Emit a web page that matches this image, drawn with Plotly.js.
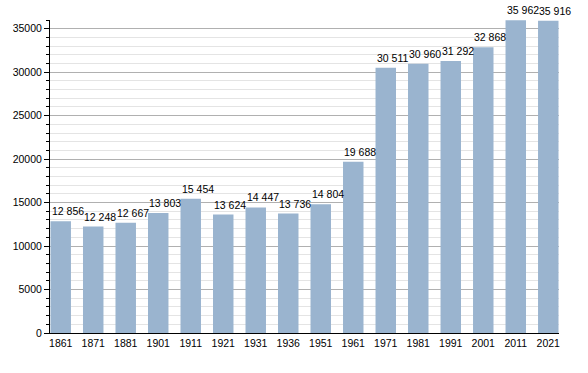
<!DOCTYPE html>
<html>
<head>
<meta charset="utf-8">
<script src="https://cdn.plot.ly/plotly-3.0.1.min.js"></script>
<style>html,body{margin:0;padding:0;background:#fff;}#chart{width:588px;height:373px;}</style>
</head>
<body>
<div id="chart"></div>
<script>
const years = ["1861","1871","1881","1901","1911","1921","1931","1936","1951","1961","1971","1981","1991","2001","2011","2021"];
const population = [12856,12248,12667,13803,15454,13624,14447,13736,14804,19688,30511,30960,31292,32868,35962,35916];

function fmt(v){ return String(v).replace(/\B(?=(\d{3})+(?!\d))/g, " "); }

const trace = {
  type: 'bar',
  x: years,
  y: population,
  marker: {color: '#9ab4cf', line: {width: 0}},
  hoverinfo: 'x+y'
};

// category axis: annotation x given as category index of each year
const labels = years.map((yr, i) => ({
  x: i, y: population[i],
  xref: 'x', yref: 'y',
  text: fmt(population[i]),
  showarrow: false,
  xanchor: 'left', yanchor: 'bottom',
  xshift: -11, yshift: 2,
  font: {family: 'Liberation Sans, Arial, sans-serif', size: 10.5, color: '#000'}
}));

const layout = {
  width: 588, height: 373,
  margin: {l: 50, r: 29, t: 20, b: 40, pad: 0},
  paper_bgcolor: '#fff', plot_bgcolor: '#fff',
  bargap: 0.37,
  showlegend: false,
  annotations: labels,
  font: {family: 'Liberation Sans, Arial, sans-serif', size: 10.5, color: '#000'},
  xaxis: {
    type: 'category',
    range: [-0.33, 15.33],
    showline: true, linecolor: '#000', linewidth: 1,
    showgrid: false, zeroline: false,
    ticks: '', ticklen: 0,
    tickfont: {size: 10.5, color: '#000'}
  },
  yaxis: {
    range: [0, 36000],
    dtick: 5000, tick0: 0,
    tickformat: 'd',
    showline: true, linecolor: '#000', linewidth: 1,
    ticks: 'outside', ticklen: 5, tickcolor: '#000',
    showgrid: true, gridcolor: '#b0b0b0', gridwidth: 1,
    zeroline: false,
    tickfont: {size: 10.5, color: '#000'},
    minor: {dtick: 1000, tick0: 0, showgrid: true, gridcolor: '#e4e4e4', gridwidth: 1, ticks: 'outside', ticklen: 3, tickcolor: '#000'}
  }
};

Plotly.newPlot('chart', [trace], layout, {staticPlot: true, displayModeBar: false});
</script>
</body>
</html>
